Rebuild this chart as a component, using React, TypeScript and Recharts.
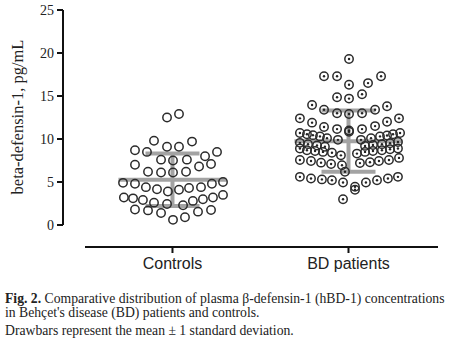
import React from 'react';
import { ScatterChart, Scatter, XAxis, YAxis, ErrorBar, ReferenceLine } from 'recharts';

const categories = ['Controls', 'BD patients'];

const controlsValues = [
  12.5, 12.9, 9.8, 9.1, 9.1, 9.7, 8.7, 8.5, 8.0, 8.5,
  7.0, 7.6, 7.5, 7.6, 6.8, 7.1, 6.2, 6.1, 6.1, 6.2,
  4.9, 4.8, 4.4, 4.15, 3.9, 4.1, 4.3, 4.4, 4.8, 5.0,
  3.2, 3.1, 2.9, 2.6, 2.45, 2.3, 2.8, 3.0, 3.2, 3.5,
  1.8, 1.7, 1.4, 1.55, 1.75, 0.6, 0.9,
];
const controlsJitter = [
  -0.031, 0.037, -0.105, -0.031, 0.037, 0.111, -0.213, -0.145, 0.185, 0.253,
  -0.213, -0.065, 0.003, 0.082, 0.151, 0.219, -0.139, -0.065, 0.003, 0.077,
  -0.281, -0.213, -0.151, -0.088, -0.026, 0.037, 0.094, 0.162, 0.224, 0.287,
  -0.276, -0.224, -0.168, -0.105, -0.031, 0.06, 0.116, 0.173, 0.23, 0.287,
  -0.213, -0.139, -0.065, 0.145, 0.219, 0.003, 0.071,
];

const bdValues = [
  19.3, 17.3, 17.3, 17.3, 16.3, 16.5, 14.85, 14.7, 15.2, 13.95,
  13.8, 13.4, 13.4, 13.0, 12.9, 13.0, 12.4, 12.4, 11.9, 12.0,
  11.4, 11.15, 11.0, 11.15, 11.5, 10.7, 10.55, 10.45, 10.3, 10.1,
  10.85, 10.3, 10.4, 10.55, 10.7, 9.9, 9.9, 10.1, 9.55, 9.4,
  9.25, 9.1, 9.2, 9.3, 9.4, 9.5, 9.65, 8.9, 8.7, 8.6,
  8.5, 8.4, 8.1, 8.3, 8.5, 8.6, 8.7, 8.8, 8.9, 7.55,
  7.45, 7.25, 7.1, 6.95, 7.2, 7.3, 7.45, 7.55, 7.8, 6.2,
  5.6, 5.4, 5.3, 5.2, 4.95, 4.45, 4.1, 4.95, 5.2, 5.4,
  5.6, 3.0,
];
const bdJitter = [
  0.003, -0.139, -0.065, 0.185, 0.003, 0.111, -0.065, 0.003, 0.077, -0.207,
  0.219, -0.139, 0.151, -0.065, 0.003, 0.077, -0.276, 0.287, -0.207, 0.219,
  -0.139, -0.065, 0.003, 0.077, 0.151, -0.276, -0.236, -0.202, -0.162, -0.122,
  0.003, 0.179, 0.219, 0.253, 0.293, -0.06, 0.071, 0.128, -0.276, -0.23,
  -0.179, -0.134, 0.094, 0.139, 0.19, 0.236, 0.281, -0.276, -0.236, -0.19,
  -0.145, -0.094, -0.043, 0.048, 0.094, 0.139, 0.19, 0.236, 0.281, -0.276,
  -0.213, -0.156, -0.099, -0.037, 0.065, 0.122, 0.173, 0.23, 0.287, -0.02,
  -0.276, -0.213, -0.151, -0.094, -0.031, 0.037, 0.037, 0.099, 0.162, 0.224,
  0.281, -0.031,
];

const groupMeans = [5.25, 9.75];
const groupSds = [3.05, 3.55];
const yTicks = [0, 5, 10, 15, 20, 25];

const X_MIN = 0.378;
const X_MAX = 2.5085;
const Y_MIN = -2.558;

const controlsData = controlsValues.map((v, i) => ({ x: 1 + controlsJitter[i], y: v }));
const bdData = bdValues.map((v, i) => ({ x: 2 + bdJitter[i], y: v }));
const meanData = groupMeans.map((m, i) => ({ x: i + 1, y: m, sd: groupSds[i], half: 0.307 }));

const OpenCircle = (props: any) => (
  <circle cx={props.cx} cy={props.cy} r={4.2} fill="none" stroke="#2b2b2b" strokeWidth={1.5} />
);

const DotCircle = (props: any) => (
  <g>
    <circle cx={props.cx} cy={props.cy} r={4.2} fill="none" stroke="#2b2b2b" strokeWidth={1.5} />
    <circle cx={props.cx} cy={props.cy} r={1.2} fill="#222" />
  </g>
);

const App = () => {
  const captionLine = { position: 'absolute' as const, left: 5, fontFamily: '"Liberation Serif", serif', fontSize: 13.7, lineHeight: '16px', color: '#222', whiteSpace: 'nowrap' as const };

  return (
    <div style={{ position: 'absolute', left: 0, top: 0, width: 449, height: 340, background: '#fff' }}>
      <ScatterChart width={449} height={280} margin={{ top: 10, right: 11, left: 0, bottom: 0 }}>
        <XAxis
          type="number"
          dataKey="x"
          domain={[X_MIN, X_MAX]}
          allowDataOverflow
          ticks={[1, 2]}
          tickFormatter={(v: number) => categories[v - 1]}
          axisLine={false}
          tickLine={{ stroke: '#111', strokeWidth: 2 }}
          tickSize={6}
          tickMargin={5}
          height={33}
          tick={{ fill: '#222', fontSize: 16, fontFamily: '"Liberation Sans", sans-serif' }}
        />
        <YAxis
          type="number"
          dataKey="y"
          domain={[Y_MIN, 25]}
          allowDataOverflow
          ticks={yTicks}
          axisLine={false}
          tickLine={{ stroke: '#111', strokeWidth: 2 }}
          tickSize={6}
          tickMargin={3}
          width={63}
          tick={{ fill: '#222', fontSize: 14, fontFamily: '"Liberation Serif", serif' }}
          label={{
            value: 'beta-defensin-1, pg/mL',
            angle: -90,
            position: 'center',
            dx: -14.5,
            dy: -11.5,
            style: { fill: '#222', fontSize: 16.5, fontFamily: '"Liberation Serif", serif' },
          }}
        />
        <ReferenceLine
          segment={[{ x: X_MIN, y: 0 }, { x: X_MIN, y: 25 }]}
          stroke="#111"
          strokeWidth={2}
          ifOverflow="visible"
        />
        <ReferenceLine
          segment={[{ x: 0.503, y: Y_MIN }, { x: X_MAX, y: Y_MIN }]}
          stroke="#111"
          strokeWidth={2}
          ifOverflow="visible"
        />
        <Scatter data={controlsData} shape={OpenCircle} isAnimationActive={false} />
        <Scatter data={bdData} shape={DotCircle} isAnimationActive={false} />
        <Scatter data={meanData} shape={() => <g />} isAnimationActive={false}>
          <ErrorBar dataKey="sd" direction="y" width={27} stroke="#a3a3a3" strokeWidth={4} isAnimationActive={false} />
          <ErrorBar dataKey="half" direction="x" width={0} stroke="#a3a3a3" strokeWidth={4} isAnimationActive={false} />
        </Scatter>
      </ScatterChart>
      <div style={{ ...captionLine, top: 291 }}>
        <b>Fig. 2.</b> Comparative distribution of plasma β-defensin-1 (hBD-1) concentrations
      </div>
      <div style={{ ...captionLine, top: 305 }}>in Behçet's disease (BD) patients and controls.</div>
      <div style={{ ...captionLine, top: 322.5 }}>Drawbars represent the mean ± 1 standard deviation.</div>
    </div>
  );
};

export default App;
